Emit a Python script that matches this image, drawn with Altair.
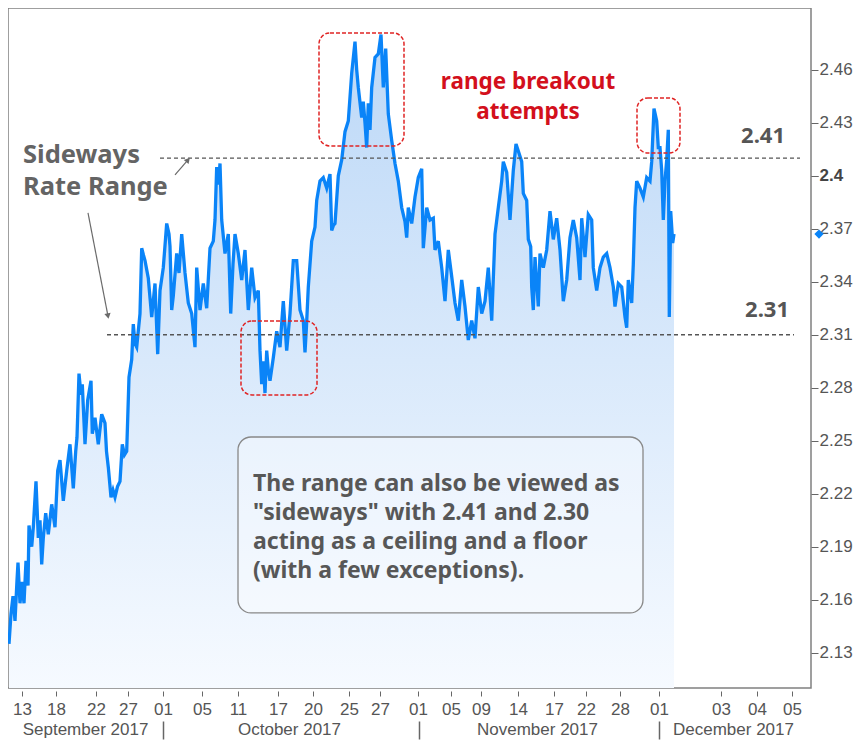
import altair as alt
import pandas as pd

# ---- data: (session position, 10-yr yield) ----
sep_pts = [
    (1, 2.135), (3, 2.152), (5, 2.162), (7, 2.148), (9, 2.171), (10, 2.181), (12, 2.158), (14, 2.170), (16, 2.158), (18, 2.182),
    (20, 2.168), (21, 2.202), (23.7, 2.190), (25.3, 2.201), (28, 2.227), (30.3, 2.195), (32, 2.205), (33.7, 2.180), (35.3, 2.195), (37.7, 2.209),
    (40.3, 2.197), (43.7, 2.214), (47, 2.201), (49.7, 2.233), (52, 2.239), (55.3, 2.216), (58.7, 2.233), (62, 2.248), (65.3, 2.223), (67.7, 2.244),
    (69, 2.252), (71, 2.288), (73, 2.276), (74.3, 2.282), (77, 2.248), (79.7, 2.273), (83, 2.284), (84.3, 2.254), (87, 2.263), (90.3, 2.248),
    (93.7, 2.265), (97, 2.260), (98.5, 2.244), (100.3, 2.235), (103, 2.218), (105, 2.222), (107, 2.218), (109.5, 2.224), (112, 2.227), (114.3, 2.248),
    (116.5, 2.242), (118.7, 2.244), (121, 2.286), (123.7, 2.296), (125.3, 2.316), (127, 2.305), (128.7, 2.303), (132, 2.322), (133.7, 2.359), (135.5, 2.355),
    (137, 2.352), (140.3, 2.342), (143.7, 2.320), (147, 2.339), (149.7, 2.299), (152, 2.335),
]
oct_pts = [
    (155.3, 2.348), (158.7, 2.373), (161, 2.367), (162, 2.360), (163.7, 2.324), (165.3, 2.332), (168.7, 2.356), (171, 2.345), (173.7, 2.367), (177, 2.345),
    (180.3, 2.328), (183.7, 2.322), (187, 2.303), (188.7, 2.348), (192, 2.324), (195.3, 2.339), (198.7, 2.325), (202, 2.359), (205.3, 2.363), (207, 2.375),
    (208.7, 2.405), (210.5, 2.395), (212, 2.407), (213.7, 2.375), (217, 2.356), (220.3, 2.367), (222.7, 2.322), (225, 2.350), (227, 2.367), (230.3, 2.356),
    (233.7, 2.341), (237, 2.358), (240.3, 2.324), (243.7, 2.348), (247, 2.331), (250.3, 2.335), (252, 2.301), (253.7, 2.282), (255.3, 2.295), (257, 2.277),
    (258.7, 2.301), (260.3, 2.290), (262, 2.284), (265.3, 2.297), (268.7, 2.312), (272, 2.303), (275.3, 2.329), (278.7, 2.301), (282, 2.322), (285.3, 2.352),
    (288.7, 2.352), (292, 2.324), (295.3, 2.318), (297, 2.300), (298.5, 2.315), (300.3, 2.337), (303.7, 2.363), (307, 2.371), (308.7, 2.386), (312, 2.397),
    (315.3, 2.399), (318.7, 2.393), (322, 2.401), (323.7, 2.369), (325.5, 2.372), (327, 2.373), (330.3, 2.400), (333.7, 2.409), (337, 2.425), (340.3, 2.431),
    (343.7, 2.458), (347, 2.476), (348.7, 2.460), (350.3, 2.450), (353.7, 2.433), (355.3, 2.442), (357, 2.430), (358.7, 2.416), (360.3, 2.441), (362, 2.426),
    (363.7, 2.450), (367, 2.467), (370.3, 2.469), (373, 2.480), (375.3, 2.450), (377.7, 2.472), (380.3, 2.435), (383.7, 2.420), (387, 2.407), (390.3, 2.397),
    (393.7, 2.382), (397, 2.374), (398.7, 2.365), (400.3, 2.382), (403.7, 2.373), (407, 2.388), (410.3, 2.399),
]
nov_pts = [
    (413.7, 2.404), (415.3, 2.359), (418.7, 2.382), (422, 2.375), (425.3, 2.376), (427, 2.358), (430.3, 2.363), (433.7, 2.348), (437, 2.329), (440.3, 2.358),
    (443.7, 2.343), (447, 2.328), (450.3, 2.318), (453.7, 2.341), (457, 2.326), (460.3, 2.307), (463.7, 2.318), (467, 2.308), (470.3, 2.337), (473.7, 2.322),
    (477, 2.329), (480.3, 2.348), (483.7, 2.318), (487, 2.367), (490.3, 2.382), (493.7, 2.397), (495.3, 2.408), (498.7, 2.402), (502, 2.375), (505.3, 2.403),
    (508, 2.418), (510.3, 2.414), (513.7, 2.408), (515.3, 2.390), (518.7, 2.386), (520.3, 2.364), (522.7, 2.360), (523.7, 2.337), (525.3, 2.324), (527, 2.354),
    (530.3, 2.326), (532, 2.356), (535.3, 2.348), (538.7, 2.358), (542, 2.380), (545.3, 2.364), (548.7, 2.376), (552, 2.358), (555.3, 2.329), (558.7, 2.341),
    (562, 2.365), (565.3, 2.375), (568.7, 2.365), (572, 2.341), (573.7, 2.376), (577, 2.354), (580.3, 2.378), (583.7, 2.375), (585.3, 2.348), (588.7, 2.335),
    (592, 2.348), (595.3, 2.354), (598.7, 2.356), (602, 2.348), (605.3, 2.337), (607, 2.326), (610.3, 2.339), (613.7, 2.337), (617, 2.320), (618.7, 2.314),
    (620.3, 2.341), (623.7, 2.328), (625.3, 2.350), (627, 2.382), (628.7, 2.397), (632, 2.393), (635.3, 2.388), (638.7, 2.399), (642, 2.397), (643.7, 2.408),
    (646, 2.438), (648.7, 2.431), (650.3, 2.416),
]
dec_pts = [
    (652, 2.416), (653.7, 2.403), (655.3, 2.375), (657, 2.397), (658.7, 2.409), (660.3, 2.426), (661.3, 2.320), (662.7, 2.380), (664.7, 2.362), (666, 2.367),
]

# axis ticks (session positions) and labels
day_pos = [14, 48, 88, 120, 155, 194, 230, 270, 305, 341, 372, 410, 443, 473, 510, 546, 578, 612, 651, 713, 749, 784]
day_lbl = ["13", "18", "22", "27", "01", "05", "11", "17", "20", "25", "27", "01",
           "05", "09", "14", "17", "22", "28", "01", "03", "04", "05"]
month_sep = [155, 411, 651]
month_mid = [77, 281, 529, 725]
month_lbl = ["September 2017", "October 2017", "November 2017", "December 2017"]
y_ticks = [2.13, 2.16, 2.19, 2.22, 2.25, 2.28, 2.31, 2.34, 2.37, 2.4, 2.43, 2.46]
y_bold = [2.4]

# range levels
levels = [2.41, 2.31]
level_start = [152, 99]
level_end = [792, 786]

X_DOMAIN = [0, 803]
Y_DOMAIN = [2.11, 2.495]

rows = []
for pts in (sep_pts, oct_pts, nov_pts, dec_pts):
    rows.extend(pts)
df = pd.DataFrame(rows, columns=["pos", "rate"])

xs = alt.Scale(domain=X_DOMAIN, nice=False, zero=False)
ys = alt.Scale(domain=Y_DOMAIN, nice=False, zero=False)

AX_FONT = "Liberation Sans"
TXT_FONT = "Noto Sans"
LINE_BLUE = "#0a84f8"
AX_COLOR = "#555"


def arr(vals, quote):
    if quote:
        return "[" + ",".join("'" + v + "'" for v in vals) + "]"
    return "[" + ",".join(str(v) for v in vals) + "]"


day_expr = arr(day_lbl, True) + "[indexof(" + arr(day_pos, False) + ", datum.value)]"
month_expr = arr(month_lbl, True) + "[indexof(" + arr(month_mid, False) + ", datum.value)]"

x_axis_days = alt.Axis(orient="bottom", offset=3, values=day_pos, labelExpr=day_expr,
                       tickSize=5, tickColor="#666", tickWidth=1, domain=False, grid=False,
                       title=None, labelFont=AX_FONT, labelFontSize=17, labelColor=AX_COLOR,
                       labelPadding=5, labelOverlap=False, labelFlush=False)

fill_grad = alt.Gradient(
    gradient="linear",
    stops=[alt.GradientStop(color="#bcd8f7", offset=0),
           alt.GradientStop(color="#f6faff", offset=1)],
    x1=0, x2=0, y1=0, y2=1)

area = alt.Chart(df).mark_area(color=fill_grad, opacity=1).encode(
    x=alt.X("pos:Q", scale=xs, axis=x_axis_days),
    y=alt.Y("rate:Q", scale=ys, axis=None),
    y2=alt.datum(Y_DOMAIN[0]),
)

line = alt.Chart(df).mark_line(color=LINE_BLUE, strokeWidth=3.3, strokeJoin="miter").encode(
    x=alt.X("pos:Q", scale=xs, axis=None),
    y=alt.Y("rate:Q", scale=ys, axis=None),
)

# price axis on the right (regular labels + bold 2.4)
yt_df = pd.DataFrame({"v": y_ticks})
y_axis_layer = alt.Chart(yt_df).mark_point(opacity=0).encode(
    x=alt.value(0),
    y=alt.Y("v:Q", scale=ys, axis=alt.Axis(
        orient="right", values=y_ticks,
        labelExpr="abs(datum.value - 2.4) < 0.001 ? '' : '' + datum.value",
        tickSize=7, tickColor="#666", tickWidth=1, domain=False, grid=False,
        title=None, labelFont=AX_FONT, labelFontSize=17, labelColor=AX_COLOR,
        labelPadding=1, labelOverlap=False, labelFlush=False)),
)
yb_df = pd.DataFrame({"v": y_bold})
y_bold_layer = alt.Chart(yb_df).mark_point(opacity=0).encode(
    x=alt.value(0),
    y=alt.Y("v:Q", scale=ys, axis=alt.Axis(
        orient="right", values=y_bold, labelExpr="'' + datum.value",
        tickSize=7, tickColor="#666", tickWidth=1, domain=False, grid=False,
        title=None, labelFont=AX_FONT, labelFontSize=17, labelFontWeight="bold",
        labelColor="#444", labelPadding=1, labelOverlap=False, labelFlush=False)),
)

lev_df = pd.DataFrame({"level": levels, "x0": level_start, "x1": level_end})
level_rules = alt.Chart(lev_df).mark_rule(color="#555", strokeDash=[4, 3], strokeWidth=1.4).encode(
    x=alt.X("x0:Q", scale=xs, axis=None), x2="x1:Q",
    y=alt.Y("level:Q", scale=ys, axis=None),
)

# red dashed breakout boxes (positions in data units)
box_df = pd.DataFrame({
    "x0": [311, 233, 629], "x1": [396, 309, 672],
    "y0": [2.4809, 2.3178, 2.4441], "y1": [2.4169, 2.2759, 2.4129],
})
red_boxes = alt.Chart(box_df).mark_rect(fillOpacity=0, stroke="#e02424", strokeDash=[4, 2],
                                        strokeWidth=1.5, cornerRadius=11).encode(
    x=alt.X("x0:Q", scale=xs, axis=None), x2="x1:Q",
    y=alt.Y("y0:Q", scale=ys, axis=None), y2="y1:Q",
)

note_df = pd.DataFrame({"x0": [230], "x1": [635], "y0": [2.2521], "y1": [2.1525]})
note_box = alt.Chart(note_df).mark_rect(fill="white", fillOpacity=0.35, stroke="#888",
                                        strokeWidth=1.3, cornerRadius=13).encode(
    x=alt.X("x0:Q", scale=xs, axis=None), x2="x1:Q",
    y=alt.Y("y0:Q", scale=ys, axis=None), y2="y1:Q",
)


def note(x, y, text, **mk):
    d = pd.DataFrame({"x": [x], "y": [y], "t": [text]})
    return alt.Chart(d).mark_text(**mk).encode(
        x=alt.X("x:Q", scale=xs, axis=None),
        y=alt.Y("y:Q", scale=ys, axis=None),
        text="t:N",
    )


t_sideways = note(15, 2.4073, "Sideways\nRate Range", lineBreak="\n", lineHeight=32,
                  align="left", baseline="alphabetic", font=TXT_FONT, fontWeight="bold",
                  fontSize=25.5, color="#646464")
t_breakout = note(520, 2.4492, "range breakout\nattempts", lineBreak="\n", lineHeight=30,
                  align="center", baseline="alphabetic", font=TXT_FONT, fontWeight="bold",
                  fontSize=22.5, color="#d3101c")
t_241 = note(777, 2.4186, "2.41", align="right", baseline="alphabetic", font=TXT_FONT,
             fontWeight="bold", fontSize=22, color="#555")
t_231 = note(781, 2.3201, "2.31", align="right", baseline="alphabetic", font=TXT_FONT,
             fontWeight="bold", fontSize=22, color="#555")
t_box = note(245, 2.2216,
             "The range can also be viewed as\n\"sideways\" with 2.41 and 2.30\nacting as a ceiling and a floor\n(with a few exceptions).",
             lineBreak="\n", lineHeight=29, align="left", baseline="alphabetic",
             font=TXT_FONT, fontWeight="bold", fontSize=23, color="#575757")

# arrows
arrow_df = pd.DataFrame({"x0": [80, 167], "y0": [2.3790, 2.4005],
                         "x1": [100, 180], "y1": [2.3206, 2.4090],
                         "shape": ["triangle-down", "triangle-up"], "ang": [349, 41]})
arrow_lines = alt.Chart(arrow_df).mark_rule(color="#6a6a6a", strokeWidth=1.2).encode(
    x=alt.X("x0:Q", scale=xs, axis=None), x2="x1:Q",
    y=alt.Y("y0:Q", scale=ys, axis=None), y2="y1:Q",
)
arrow_heads = alt.Chart(arrow_df).mark_point(filled=True, color="#6a6a6a", size=40, opacity=1).encode(
    x=alt.X("x1:Q", scale=xs, axis=None),
    y=alt.Y("y1:Q", scale=ys, axis=None),
    shape=alt.Shape("shape:N", scale=None, legend=None),
    angle=alt.Angle("ang:Q", scale=None, legend=None),
)

# last-price marker on the price axis
last_df = pd.DataFrame({"x": [811], "y": [dec_pts[-1][1]]})
marker = alt.Chart(last_df).mark_point(shape="diamond", filled=True, color=LINE_BLUE,
                                       size=85, opacity=1).encode(
    x=alt.X("x:Q", scale=xs, axis=None),
    y=alt.Y("y:Q", scale=ys, axis=None),
)

# second-level month axis
mon_df = pd.DataFrame({"mid": month_mid})
month_layer = alt.Chart(mon_df).mark_point(opacity=0).encode(
    x=alt.X("mid:Q", scale=xs, axis=alt.Axis(
        orient="bottom", offset=31, values=month_mid, labelExpr=month_expr,
        ticks=False, tickSize=0, domain=False, grid=False, title=None,
        labelFont=AX_FONT, labelFontSize=17, labelColor=AX_COLOR, labelPadding=2,
        labelOverlap=False, labelFlush=False)),
    y=alt.value(0),
)
sep_df = pd.DataFrame({"sep": month_sep})
sep_layer = alt.Chart(sep_df).mark_point(opacity=0).encode(
    x=alt.X("sep:Q", scale=xs, axis=alt.Axis(
        orient="bottom", offset=33, values=month_sep, labels=False,
        tickSize=18, tickColor="#666", tickWidth=1.5, domain=False, grid=False,
        title=None)),
    y=alt.value(0),
)

chart = alt.layer(
    area, line, level_rules, red_boxes, note_box,
    t_sideways, t_breakout, t_241, t_231, t_box,
    arrow_lines, arrow_heads, marker, month_layer, sep_layer,
    y_axis_layer, y_bold_layer,
).resolve_axis(x="independent", y="independent").properties(
    width=803, height=680,
    autosize=alt.AutoSizeParams(type="none"),
    padding={"left": 0, "top": 0, "right": 42, "bottom": 52},
    background="white",
).configure_view(stroke="#808080", strokeWidth=1.5)

chart.save("out.html", embed_options={"renderer": "svg", "actions": False})
